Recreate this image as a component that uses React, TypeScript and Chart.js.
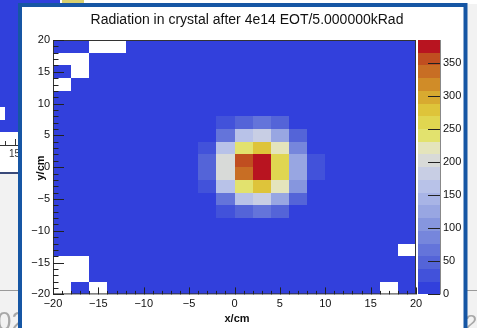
import React, { useEffect, useRef } from "react";
import { Chart, registerables } from "chart.js";

Chart.register(...registerables);

// ---------- data ----------
const titleText = "Radiation in crystal after 4e14 EOT/5.000000kRad";
const xTitle = "x/cm";
const yTitle = "y/cm";

// bin centres (2 cm bins)
const xCenters = [-19, -17, -15, -13, -11, -9, -7, -5, -3, -1, 1, 3, 5, 7, 9, 11, 13, 15, 17, 19];
const yCenters = [19, 17, 15, 13, 11, 9, 7, 5, 3, 1, -1, -3, -5, -7, -9, -11, -13, -15, -17, -19];
const binWidth = 2;

const _ = null;
// dose per bin (kRad scale of colour bar), rows from top (y=19) to bottom (y=-19); null = empty bin
const dose: (number | null)[][] = [
  [8, 8, _, _, 8, 8, 8, 8, 8, 8, 8, 8, 8, 8, 8, 8, 8, 8, 8, 8],
  [_, _, 8, 8, 8, 8, 8, 8, 8, 8, 8, 8, 8, 8, 8, 8, 8, 8, 8, 8],
  [8, _, 8, 8, 8, 8, 8, 8, 8, 8, 8, 8, 8, 8, 8, 8, 8, 8, 8, 8],
  [_, 8, 8, 8, 8, 8, 8, 8, 8, 8, 8, 8, 8, 8, 8, 8, 8, 8, 8, 8],
  [8, 8, 8, 8, 8, 8, 8, 8, 8, 8, 8, 8, 8, 8, 8, 8, 8, 8, 8, 8],
  [8, 8, 8, 8, 8, 8, 8, 8, 8, 8, 8, 8, 8, 8, 8, 8, 8, 8, 8, 8],
  [8, 8, 8, 8, 8, 8, 8, 8, 8, 28, 45, 62, 42, 8, 8, 8, 8, 8, 8, 8],
  [8, 8, 8, 8, 8, 8, 8, 8, 8, 60, 160, 178, 122, 45, 8, 8, 8, 8, 8, 8],
  [8, 8, 8, 8, 8, 8, 8, 8, 26, 158, 240, 282, 218, 82, 8, 8, 8, 8, 8, 8],
  [8, 8, 8, 8, 8, 8, 8, 8, 45, 200, 355, 375, 262, 130, 26, 8, 8, 8, 8, 8],
  [8, 8, 8, 8, 8, 8, 8, 8, 45, 200, 335, 378, 262, 130, 26, 8, 8, 8, 8, 8],
  [8, 8, 8, 8, 8, 8, 8, 8, 28, 158, 240, 282, 218, 100, 8, 8, 8, 8, 8, 8],
  [8, 8, 8, 8, 8, 8, 8, 8, 8, 62, 170, 178, 122, 45, 8, 8, 8, 8, 8, 8],
  [8, 8, 8, 8, 8, 8, 8, 8, 8, 28, 45, 62, 42, 8, 8, 8, 8, 8, 8, 8],
  [8, 8, 8, 8, 8, 8, 8, 8, 8, 8, 8, 8, 8, 8, 8, 8, 8, 8, 8, 8],
  [8, 8, 8, 8, 8, 8, 8, 8, 8, 8, 8, 8, 8, 8, 8, 8, 8, 8, 8, 8],
  [8, 8, 8, 8, 8, 8, 8, 8, 8, 8, 8, 8, 8, 8, 8, 8, 8, 8, 8, _],
  [_, _, 8, 8, 8, 8, 8, 8, 8, 8, 8, 8, 8, 8, 8, 8, 8, 8, 8, 8],
  [_, _, 8, 8, 8, 8, 8, 8, 8, 8, 8, 8, 8, 8, 8, 8, 8, 8, 8, 8],
  [_, 8, _, 8, 8, 8, 8, 8, 8, 8, 8, 8, 8, 8, 8, 8, 8, 8, _, 8],
];

const zMax = 385;
const zTickStep = 50;
// 20 colour contours, bottom -> top
const palette = [
  "#3240dc", "#4252da", "#5464d8", "#6474da", "#7686dc",
  "#8696de", "#98a6e2", "#a8b4e6", "#b8c2e8", "#c8cee4",
  "#d8dad8", "#e4e4bc", "#e2e26e", "#e0d650", "#dec43a",
  "#d8aa30", "#d08c28", "#c86e24", "#c04e20", "#b81420",
];

const FONT = '"Liberation Sans", Arial, Helvetica, sans-serif';
const fmt = (v: number | string) => {
  const n = Number(v);
  return n < 0 ? "\u2212" + Math.abs(n) : String(n);
};

const heatPlugin = {
  id: "heat",
  beforeDraw(chart: any) {
    const { ctx, width, height } = chart;
    ctx.save();
    // slide background
    ctx.fillStyle = "#f2f2f2";
    ctx.fillRect(0, 0, width, height);
    ctx.fillStyle = "#ffffff";
    ctx.fillRect(60, 0, width - 60, 4);
    // neighbouring plot at left
    ctx.fillStyle = "#3040dc";
    ctx.fillRect(0, 0, 20, 132);
    ctx.fillRect(0, 0, 60, 4);
    ctx.fillStyle = "#d8cf6e";
    ctx.fillRect(62, 0, 22, 3);
    ctx.fillStyle = "#ffffff";
    ctx.fillRect(0, 107, 5, 13);
    ctx.fillRect(0, 132, 20, 40);
    ctx.strokeStyle = "#333";
    ctx.lineWidth = 1;
    ctx.beginPath();
    ctx.moveTo(0, 145.5);
    ctx.lineTo(18, 145.5);
    ctx.moveTo(5.5, 145);
    ctx.lineTo(5.5, 141);
    ctx.moveTo(15.5, 145);
    ctx.lineTo(15.5, 139);
    ctx.stroke();
    ctx.fillStyle = "#333";
    ctx.font = `10px ${FONT}`;
    ctx.textAlign = "left";
    ctx.textBaseline = "alphabetic";
    ctx.fillText("15", 9, 157);
    ctx.strokeStyle = "#3a4a7a";
    ctx.lineWidth = 2;
    ctx.beginPath();
    ctx.moveTo(0, 173);
    ctx.lineTo(20, 173);
    ctx.stroke();
    ctx.strokeStyle = "#9a9a9a";
    ctx.lineWidth = 1;
    ctx.beginPath();
    ctx.moveTo(0, 290.5);
    ctx.lineTo(20, 290.5);
    ctx.moveTo(466, 290.5);
    ctx.lineTo(width, 290.5);
    ctx.stroke();
    ctx.fillStyle = "#a8a8a8";
    ctx.font = `26px ${FONT}`;
    ctx.fillText("02", -3, 330);
    ctx.font = `22px ${FONT}`;
    ctx.fillText("2", 465, 330);
    // panel
    ctx.fillStyle = "#ffffff";
    ctx.fillRect(20, 5, 446, 340);
    ctx.strokeStyle = "#1656a4";
    ctx.lineWidth = 4;
    ctx.strokeRect(20, 5, 445.5, 340);
    ctx.restore();
  },
  beforeDatasetsDraw(chart: any) {
    const { ctx, scales } = chart;
    const xs = scales.x;
    const ys = scales.y;
    const step = zMax / palette.length;
    ctx.save();
    for (const c of chart.data.datasets[0].data as any[]) {
      const x0 = Math.round(xs.getPixelForValue(c.x - binWidth / 2));
      const x1 = Math.round(xs.getPixelForValue(c.x + binWidth / 2));
      const y0 = Math.round(ys.getPixelForValue(c.y + binWidth / 2));
      const y1 = Math.round(ys.getPixelForValue(c.y - binWidth / 2));
      const b = Math.max(0, Math.min(palette.length - 1, Math.floor(c.v / step)));
      ctx.fillStyle = palette[b];
      ctx.fillRect(x0, y0, x1 - x0, y1 - y0);
    }
    ctx.restore();
  },
  afterDatasetsDraw(chart: any) {
    const { ctx, chartArea, scales } = chart;
    const xs = scales.x;
    const ys = scales.y;
    const zs = scales.z;
    const { left, right, top, bottom } = chartArea;
    ctx.save();
    // frame
    ctx.strokeStyle = "#333";
    ctx.lineWidth = 1;
    ctx.strokeRect(left + 0.5, top + 0.5, right - left - 1, bottom - top - 1);
    // inward ticks
    ctx.strokeStyle = "#222";
    ctx.beginPath();
    for (let v = xs.min; v <= xs.max; v += 1) {
      const px = Math.round(xs.getPixelForValue(v)) + 0.5;
      const len = v % 5 === 0 ? 7 : 3.5;
      ctx.moveTo(px, bottom);
      ctx.lineTo(px, bottom - len);
    }
    for (let v = ys.min; v <= ys.max; v += 1) {
      const py = Math.round(ys.getPixelForValue(v)) + 0.5;
      const len = v % 5 === 0 ? 11 : 5.5;
      ctx.moveTo(left, py);
      ctx.lineTo(left + len, py);
    }
    ctx.stroke();
    // colour bar
    const cbL = right + 2;
    const cbR = right + 24;
    const step = zMax / palette.length;
    palette.forEach((col, b) => {
      const yT = Math.round(zs.getPixelForValue((b + 1) * step));
      const yB = Math.round(zs.getPixelForValue(b * step));
      ctx.fillStyle = col;
      ctx.fillRect(cbL, yT, cbR - cbL, yB - yT);
    });
    ctx.strokeStyle = "#888";
    ctx.beginPath();
    ctx.moveTo(cbR + 0.5, top);
    ctx.lineTo(cbR + 0.5, bottom);
    ctx.stroke();
    ctx.strokeStyle = "#222";
    ctx.beginPath();
    for (let v = 0; v <= zMax; v += zTickStep) {
      const py = Math.round(zs.getPixelForValue(v)) + 0.5;
      ctx.moveTo(cbR - 12, py);
      ctx.lineTo(cbR, py);
    }
    ctx.stroke();
    // titles
    ctx.fillStyle = "#111";
    ctx.textAlign = "center";
    ctx.textBaseline = "alphabetic";
    ctx.font = `14px ${FONT}`;
    ctx.fillText(titleText, 247, 23.5);
    ctx.font = `bold 11px ${FONT}`;
    ctx.fillText(xTitle, 237, 322);
    ctx.translate(44, 168);
    ctx.rotate(-Math.PI / 2);
    ctx.fillText(yTitle, 0, 0);
    ctx.restore();
  },
};

export default function App() {
  const ref = useRef<HTMLCanvasElement>(null);
  useEffect(() => {
    const cells: { x: number; y: number; v: number }[] = [];
    dose.forEach((row, r) =>
      row.forEach((v, c) => {
        if (v !== null) cells.push({ x: xCenters[c], y: yCenters[r], v });
      })
    );
    const tickFont = { family: FONT, size: 11 };
    const chart = new Chart(ref.current as HTMLCanvasElement, {
      type: "scatter",
      data: {
        datasets: [{ data: cells, pointRadius: 0, pointHoverRadius: 0 }],
      },
      options: {
        responsive: false,
        animation: false,
        devicePixelRatio: 1,
        events: [],
        layout: { padding: { top: 40, left: 0, right: 0, bottom: 0 } },
        plugins: {
          legend: { display: false },
          tooltip: { enabled: false },
          title: { display: false },
        },
        scales: {
          x: {
            type: "linear",
            position: "bottom",
            min: -20,
            max: 20,
            grid: { display: false, drawTicks: false },
            border: { display: false },
            ticks: {
              stepSize: 5,
              autoSkip: false,
              maxRotation: 0,
              includeBounds: false,
              padding: 3,
              color: "#111",
              font: tickFont,
              callback: fmt,
            },
            afterFit: (s: any) => {
              s.height = 26;
            },
          },
          y: {
            type: "linear",
            position: "left",
            min: -20,
            max: 20,
            grid: { display: false, drawTicks: false },
            border: { display: false },
            ticks: {
              stepSize: 5,
              autoSkip: false,
              includeBounds: false,
              padding: 3,
              color: "#111",
              font: tickFont,
              callback: fmt,
            },
            afterFit: (s: any) => {
              s.width = 53;
            },
          },
          z: {
            type: "linear",
            position: "right",
            axis: "y",
            min: 0,
            max: zMax,
            grid: { display: false, drawTicks: false },
            border: { display: false },
            ticks: {
              stepSize: zTickStep,
              autoSkip: false,
              includeBounds: false,
              padding: 27,
              color: "#111",
              font: tickFont,
              callback: fmt,
            },
            afterFit: (s: any) => {
              s.width = 61;
            },
          },
        },
      } as any,
      plugins: [heatPlugin],
    });
    return () => chart.destroy();
  }, []);
  return (
    <div style={{ position: "fixed", left: 0, top: 0, width: 477, height: 328 }}>
      <canvas ref={ref} width={477} height={328} style={{ display: "block" }} />
    </div>
  );
}
